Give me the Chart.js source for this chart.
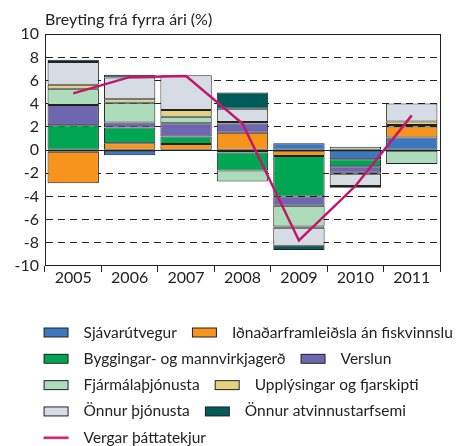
<!DOCTYPE html>
<html>
<head>
<meta charset="utf-8">
<script src="https://cdn.jsdelivr.net/npm/chart.js@4/dist/chart.umd.min.js"></script>
<style>
  body { margin: 0; background: #fff; }
  canvas { display: block; }
</style>
</head>
<body>
<canvas id="chart" width="460" height="446"></canvas>
<script>
// values (% change from previous year)
const years = ['2005', '2006', '2007', '2008', '2009', '2010', '2011'];
const sjavarutvegur = [-0.15, -0.45, 0, -0.2, 0.6, -0.78, 1.1];
const idnadur = [-2.7, 0.6, 0.52, 1.5, -0.5, 0, 0.95];
const byggingar = [2.15, 1.35, 0.66, -1.55, -3.5, -0.62, 0];
const verslun = [1.75, 0.43, 1.13, 0.8, -0.8, -0.55, 0.12];
const fjarmal = [1.4, 1.7, 0.58, -0.95, -1.8, 0.3, -1.2];
const upplysingar = [0.35, 0.32, 0.57, 0.12, -0.1, -0.1, 0.3];
const onnurThjonusta = [1.95, 1.87, 3.0, 1.16, -1.55, -1.05, 1.56];
const onnurAtvinnu = [0.2, 0.23, 0, 1.4, -0.37, -0.15, 0];
const vergar = [4.9, 6.3, 6.4, 2.3, -7.8, -3.1, 3.0];

const FONT = 'Lato';
const INK = '#222';

// legend swatches
function boxSwatch(color) {
  const c = document.createElement('canvas');
  c.width = 36; c.height = 12;
  const g = c.getContext('2d');
  g.fillStyle = color;
  g.fillRect(4, 1.5, 25, 9);
  g.strokeStyle = INK;
  g.lineWidth = 1;
  g.strokeRect(4.5, 1.5, 24, 9);
  return c;
}
function lineSwatch(color) {
  const c = document.createElement('canvas');
  c.width = 36; c.height = 12;
  const g = c.getContext('2d');
  g.strokeStyle = color;
  g.lineWidth = 2.5;
  g.beginPath();
  g.moveTo(4, 6);
  g.lineTo(29, 6);
  g.stroke();
  return c;
}

function barSet(label, data, color) {
  return {
    type: 'bar',
    label: label,
    data: data,
    backgroundColor: color,
    borderColor: INK,
    borderWidth: 1,
    borderSkipped: false,
    barPercentage: 0.91,
    categoryPercentage: 1,
    yAxisID: 'y',
    pointStyle: boxSwatch(color)
  };
}

// legend starts under the plot, not under the tick labels
const legendShift = {
  id: 'legendShift',
  afterLayout(chart) {
    chart.legend.left += 15.5;
    chart.legend.right += 15.5;
  }
};

new Chart(document.getElementById('chart'), {
  data: {
    labels: years,
    datasets: [
      barSet('Sjávarútvegur', sjavarutvegur, '#3b78bf'),
      barSet('Iðnaðarframleiðsla án fiskvinnslu', idnadur, '#f7941e'),
      barSet('Byggingar- og mannvirkjagerð', byggingar, '#00a651'),
      barSet('Verslun', verslun, '#6f66b0'),
      barSet('Fjármálaþjónusta', fjarmal, '#acdcb9'),
      barSet('Upplýsingar og fjarskipti', upplysingar, '#e6d27e'),
      barSet('Önnur þjónusta', onnurThjonusta, '#d6dce4'),
      barSet('Önnur atvinnustarfsemi', onnurAtvinnu, '#005b5b'),
      {
        type: 'line',
        label: 'Vergar þáttatekjur',
        data: vergar,
        borderColor: '#c2176b',
        backgroundColor: '#c2176b',
        borderWidth: 2.5,
        tension: 0,
        pointRadius: 0,
        stack: 'line',
        order: -1,
        yAxisID: 'y',
        pointStyle: lineSwatch('#c2176b')
      }
    ]
  },
  plugins: [legendShift],
  options: {
    responsive: false,
    animation: false,
    layout: {
      padding: { left: 13, right: -8, top: 0, bottom: -9.45 }
    },
    scales: {
      x: {
        stacked: true,
        grid: { offset: true, drawOnChartArea: false, tickLength: 6, color: INK },
        border: { color: INK },
        ticks: { color: INK, padding: -4, font: { family: FONT, size: 16 } },
        afterFit: s => { s.height = 48; }
      },
      y: {
        stacked: true,
        min: -10,
        max: 10,
        grid: { color: INK, drawTicks: false },
        border: {
          color: INK,
          dash: ctx => (ctx.tick && ctx.tick.value !== 0 && Math.abs(ctx.tick.value) < 10) ? [7, 5] : []
        },
        ticks: { stepSize: 2, color: INK, padding: 6, font: { family: FONT, size: 16 } },
        afterFit: s => { s.width = 32; }
      },
      y2: {
        position: 'right',
        grid: { display: false, drawTicks: false },
        ticks: { display: false },
        border: { display: true, color: INK },
        afterFit: s => { s.width = 28; }
      }
    },
    plugins: {
      title: {
        display: true,
        text: 'Breyting frá fyrra ári (%)',
        align: 'start',
        fullSize: false,
        color: INK,
        font: { family: FONT, size: 16, weight: 'normal' },
        padding: { top: 10, bottom: 5.1 }
      },
      legend: {
        position: 'bottom',
        align: 'start',
        labels: {
          usePointStyle: true,
          pointStyleWidth: 36.5,
          boxHeight: 10,
          padding: 10.8,
          color: INK,
          font: { family: FONT, size: 15.5 },
          sort: (a, b) => a.datasetIndex - b.datasetIndex
        }
      },
      tooltip: { enabled: false }
    }
  }
});
</script>
</body>
</html>
